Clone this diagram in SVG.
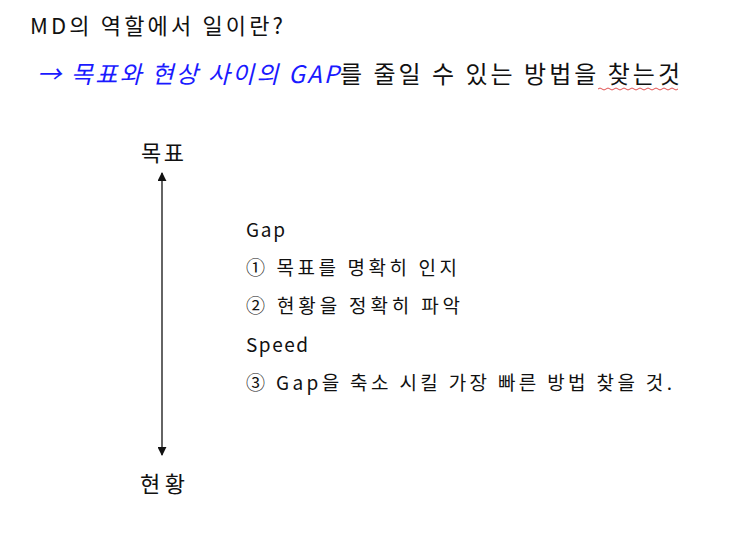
<svg xmlns="http://www.w3.org/2000/svg" width="743" height="533" viewBox="0 0 743 533">
<defs>
<style>
text{font-family:"Noto Sans CJK KR","Noto Sans",sans-serif;fill:#111}
.t{font-size:22px}
.b{fill:#1a1aff;font-style:italic}
.s{font-size:24px}
.l{font-size:19px}
.ln{stroke:#111;stroke-width:1.3;fill:none}
</style>
<marker id="ah" viewBox="0 0 10 10" refX="9" refY="5" markerWidth="9" markerHeight="9" orient="auto-start-reverse" markerUnits="userSpaceOnUse">
<path d="M0,0L10,5L0,10z" fill="#111"/>
</marker>
</defs>
<rect width="743" height="533" fill="#fff"/>
<g id="title"><text class="t" x="30" y="34" textLength="253" lengthAdjust="spacing">MD의 역할에서 일이란?</text></g>
<g id="subtitle">
<text class="s b" x="37" y="83" textLength="302" lengthAdjust="spacing">→ 목표와 현상 사이의 GAP</text>
<text class="s" x="340" y="83" textLength="340" lengthAdjust="spacing">를 줄일 수 있는 방법을 찾는것</text>
<path d="M598,89 q2,-2 4,0 t4,0 t4,0 t4,0 t4,0 t4,0 t4,0 t4,0 t4,0 t4,0 t4,0 t4,0 t4,0 t4,0 t4,0 t4,0 t4,0 t4,0 t4,0 t4,0" stroke="#e05050" stroke-width="1" fill="none"/></g>
<g id="goal"><text class="t" x="141" y="161" textLength="43" lengthAdjust="spacing">목표</text></g>
<g id="current"><text class="t" x="140" y="492" textLength="45" lengthAdjust="spacing">현황</text></g>
<g id="connectors"><line class="ln" x1="162" y1="173" x2="162" y2="455" marker-start="url(#ah)" marker-end="url(#ah)"/></g>
<g id="list">
<text class="l" x="246" y="237" textLength="39" lengthAdjust="spacing">Gap</text>
<text class="l" x="246" y="275" textLength="211" lengthAdjust="spacing">① 목표를 명확히 인지</text>
<text class="l" x="246" y="313" textLength="214" lengthAdjust="spacing">② 현황을 정확히 파악</text>
<text class="l" x="246" y="352" textLength="62" lengthAdjust="spacing">Speed</text>
<text class="l" x="246" y="390" textLength="426" lengthAdjust="spacing">③ Gap을 축소 시킬 가장 빠른 방법 찾을 것.</text>
</g>
</svg>
